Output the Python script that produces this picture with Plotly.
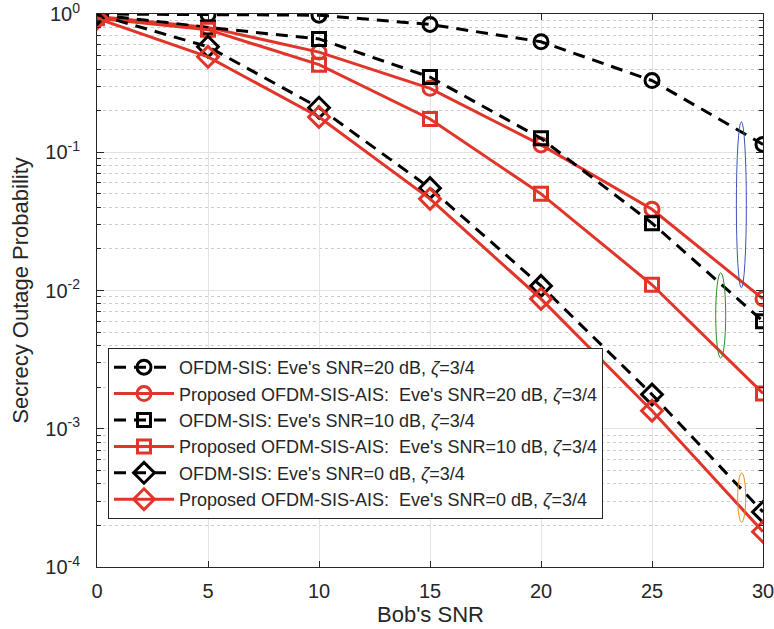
import plotly.graph_objects as go

snr = [0, 5, 10, 15, 20, 25, 30]

sis_20 = [1.0, 0.99, 0.98, 0.84, 0.63, 0.33, 0.114]
ais_20 = [0.96, 0.80, 0.53, 0.29, 0.113, 0.0387, 0.0087]
sis_10 = [0.99, 0.80, 0.66, 0.35, 0.126, 0.0307, 0.0060]
ais_10 = [0.93, 0.77, 0.43, 0.174, 0.050, 0.011, 0.0018]
sis_0 = [0.99, 0.58, 0.21, 0.055, 0.0108, 0.00177, 0.00025]
ais_0 = [0.93, 0.49, 0.18, 0.046, 0.0087, 0.00135, 0.00018]

names = [
    "OFDM-SIS: Eve's SNR=20 dB, <i>ζ</i>=3/4",
    "Proposed OFDM-SIS-AIS:  Eve's SNR=20 dB, <i>ζ</i>=3/4",
    "OFDM-SIS: Eve's SNR=10 dB, <i>ζ</i>=3/4",
    "Proposed OFDM-SIS-AIS:  Eve's SNR=10 dB, <i>ζ</i>=3/4",
    "OFDM-SIS: Eve's SNR=0 dB, <i>ζ</i>=3/4",
    "Proposed OFDM-SIS-AIS:  Eve's SNR=0 dB, <i>ζ</i>=3/4",
]
series = [sis_20, ais_20, sis_10, ais_10, sis_0, ais_0]
symbols = ["circle-open", "circle-open", "square-open", "square-open", "diamond-open", "diamond-open"]
sizes = [14, 14, 13, 13, 16, 16]

xtick_vals = [0, 5, 10, 15, 20, 25, 30]
ytick_vals = [1e-4, 1e-3, 1e-2, 1e-1, 1]
ytick_text = ["10<sup>-4</sup>", "10<sup>-3</sup>", "10<sup>-2</sup>", "10<sup>-1</sup>", "10<sup>0</sup>"]
decades = [1e-4, 1e-3, 1e-2, 1e-1]
minor_mult = [2, 3, 4, 5, 6, 7, 8, 9]
yminor_vals = [m * d for d in decades for m in minor_mult]

x_title = "Bob's SNR"
y_title = "Secrecy Outage Probability"

# highlight ellipses in paper fractions: (x0, x1, y0, y1, colour)
ellipses = [
    (0.960, 0.975, 0.505, 0.805, "#3a55b5"),
    (0.929, 0.944, 0.378, 0.532, "#2a8a2a"),
    (0.962, 0.974, 0.081, 0.170, "#e8901a"),
]

RED = "#e2352a"
fig = go.Figure()
for i, (nm, ys) in enumerate(zip(names, series)):
    black = i % 2 == 0
    col = "black" if black else RED
    fig.add_trace(go.Scatter(
        x=snr, y=ys, name=nm, mode="lines+markers",
        line=dict(color=col, width=3, dash="12px,8px" if black else "solid"),
        marker=dict(symbol=symbols[i], size=sizes[i], color=col, line=dict(width=3, color=col)),
    ))

for x0, x1, y0, y1, c in ellipses:
    fig.add_shape(type="circle", xref="paper", yref="paper", x0=x0, x1=x1, y0=y0, y1=y1,
                  line=dict(color=c, width=1))

fig.add_annotation(text=x_title, xref="paper", yref="paper", x=0.5, y=-0.086,
                   xanchor="center", yanchor="middle", showarrow=False, borderpad=0,
                   font=dict(size=22, color="#262626"))

fig.update_layout(
    width=774, height=629,
    margin=dict(l=97, r=11, t=14, b=62),
    plot_bgcolor="white", paper_bgcolor="white",
    font=dict(family="Liberation Sans, Arial, sans-serif", size=18, color="#262626"),
    showlegend=True,
    legend=dict(x=0.0165, y=0.396, xanchor="left", yanchor="top",
                bgcolor="white", bordercolor="#262626", borderwidth=1,
                font=dict(size=18, color="#262626"), itemwidth=60,
                tracegroupgap=0),
)
fig.update_xaxes(
    range=[0, 30], tickvals=xtick_vals, automargin=False, ticklabeloverflow="allow",
    showline=True, linecolor="#262626", linewidth=1, mirror="ticks",
    ticks="inside", ticklen=6, tickcolor="#262626", ticklabelstandoff=6,
    showgrid=True, gridcolor="#e3e3e3", gridwidth=1, zeroline=False,
    tickfont=dict(size=20),
)
fig.update_yaxes(
    type="log", range=[-4, 0], tickvals=ytick_vals, ticktext=ytick_text,
    automargin=False, ticklabeloverflow="allow",
    showline=True, linecolor="#262626", linewidth=1, mirror="ticks",
    ticks="inside", ticklen=7, tickcolor="#262626", ticklabelstandoff=12,
    showgrid=True, gridcolor="#e3e3e3", gridwidth=1, zeroline=False,
    minor=dict(tickmode="array", tickvals=yminor_vals, ticks="inside", ticklen=4,
               tickcolor="#262626", showgrid=True,
               gridcolor="#cccccc", griddash="dot", gridwidth=1),
    title=dict(text=y_title, font=dict(size=22), standoff=10),
    tickfont=dict(size=20),
)

fig.write_html("out.html", config={"displayModeBar": False},
               post_script="document.body.style.margin='0';")
